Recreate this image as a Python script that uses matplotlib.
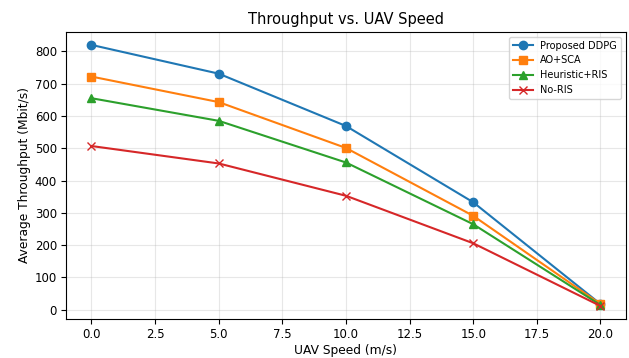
import numpy as np
import matplotlib.pyplot as plt

# UAV speed (m/s)
speeds = [0, 5, 10, 15, 20]

# average throughput (Mbit/s)
ddpg = [820, 731, 569, 333, 18]
ao_sca = [722, 643, 501, 291, 18]
heuristic_ris = [655, 585, 456, 265, 15]
no_ris = [507, 453, 353, 206, 12]

fig, ax = plt.subplots(figsize=(6.29, 3.58), dpi=100)

ax.plot(speeds, ddpg, marker="o", label="Proposed DDPG")
ax.plot(speeds, ao_sca, marker="s", label="AO+SCA")
ax.plot(speeds, heuristic_ris, marker="^", label="Heuristic+RIS")
ax.plot(speeds, no_ris, marker="x", label="No-RIS")

ax.set_xlabel("UAV Speed (m/s)", fontsize=8.8, labelpad=2)
ax.set_ylabel("Average Throughput (Mbit/s)", fontsize=8.8, labelpad=3)
ax.set_title("Throughput vs. UAV Speed", fontsize=10.5)
ax.tick_params(labelsize=8.5, pad=3)
ax.legend(fontsize=7)
ax.grid(True, alpha=0.3)

fig.subplots_adjust(left=0.105, right=0.995, top=0.911, bottom=0.109)
fig.savefig("out.png", dpi=100)
plt.close("all")
